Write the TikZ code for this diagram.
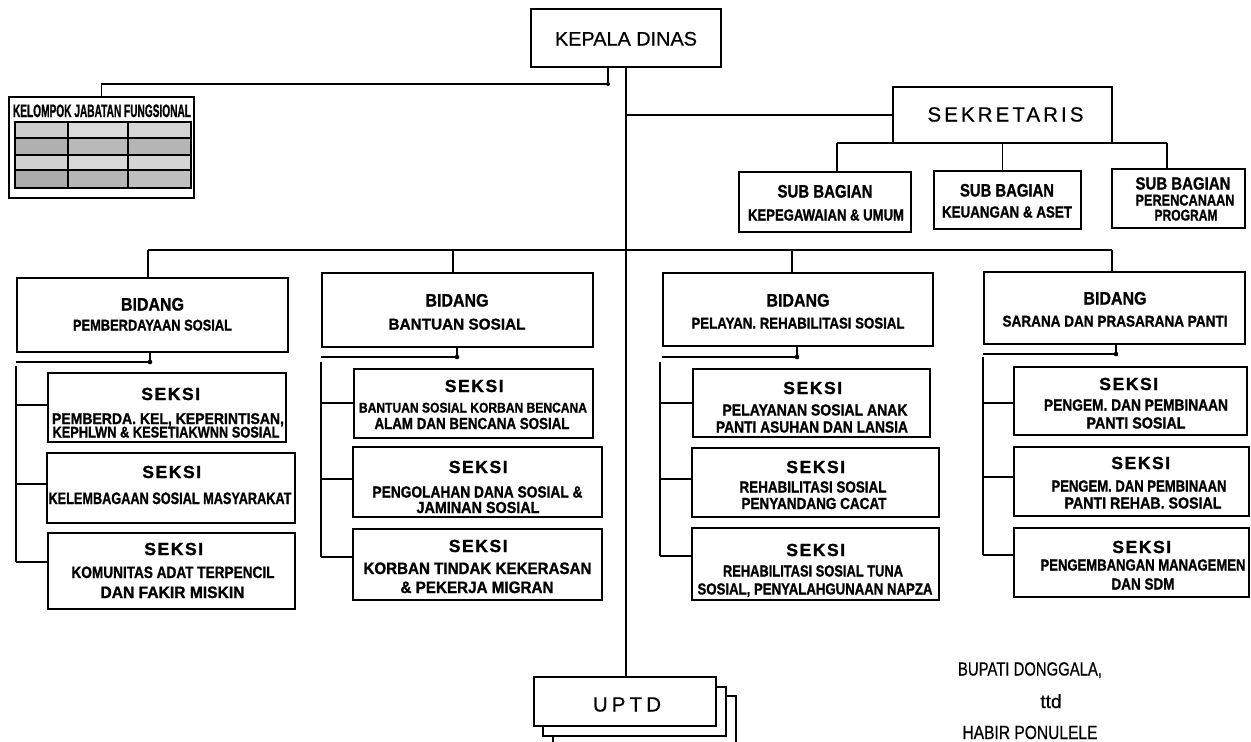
\documentclass[tikz,border=0pt]{standalone}
\usepackage{fontspec}
\usepackage{graphicx}
\setmainfont{Liberation Sans}[BoldFeatures={FakeBold=1.2}]
\newfontfamily\lsans{Liberation Sans}
\newfontfamily\lsansA[LetterSpace=9,BoldFeatures={FakeBold=1.2}]{Liberation Sans}
\newfontfamily\lsansB[LetterSpace=15,FakeBold=0.6]{Liberation Sans}
\newfontfamily\lsansC[LetterSpace=20,FakeBold=0.6]{Liberation Sans}
\newfontfamily\lsansR[FakeBold=0.6]{Liberation Sans}
% squeeze or stretch a line horizontally to a given width (in pt)
\newcommand\fitw[2]{\resizebox{#1pt}{\height}{#2}}
\newcommand\fsz[1]{\fontsize{#1}{#1}\selectfont}

\begin{document}
\begin{tikzpicture}[x=1pt,y=-1pt,
  box/.style={draw, line width=2pt, fill=white, inner sep=0pt},
  wire/.style={line width=1.9pt},
  tl/.style={anchor=base, inner sep=0pt, outer sep=0pt, font=\bfseries},
  tr/.style={anchor=base, inner sep=0pt, outer sep=0pt, font=\lsansR},
]
% box given by its corners: name, x1, y1, x2, y2
\newcommand\boxat[5]{\node[box, minimum width={#4pt-#2pt}, minimum height={#5pt-#3pt}]
  (#1) at ({(#2+#4)/2},{(#3+#5)/2}) {};}
% bold text line: name, x, baseline y, size, width, text
\newcommand\tx[6]{\node[tl] (#1) at (#2,#3) {\fsz{#4}\fitw{#5}{#6}};}
% spaced heading of a section box
\newcommand\hd[3]{\node[tl] (#1) at (#2,#3) {\fsz{17.5}\lsansA\bfseries SEKSI\kern-1.5pt};}

\clip (0,0) rectangle (1251,742);
\fill[white] (0,0) rectangle (1251,742);

% ---------- head of office ----------
\boxat{kepala}{531}{9}{721}{67}
\node[tr] (tkepala) at (626,45.5) {\fsz{19.5}\fitw{142}{KEPALA DINAS}};

% ---------- functional group ----------
\boxat{kjf}{9}{97}{194}{198}
\tx{tkjf}{102}{117}{18}{178}{KELOMPOK JABATAN FUNGSIONAL}
\begin{scope}[line width=1.7pt]
  \fill[gray!40] (15,122) rectangle (68,138);
  \fill[gray!28] (68,122) rectangle (128,138);
  \fill[gray!33] (128,122) rectangle (191,138);
  \fill[gray!62] (15,138) rectangle (68,155);
  \fill[gray!55] (68,138) rectangle (128,155);
  \fill[gray!58] (128,138) rectangle (191,155);
  \fill[gray!36] (15,155) rectangle (68,170);
  \fill[gray!30] (68,155) rectangle (128,170);
  \fill[gray!34] (128,155) rectangle (191,170);
  \fill[gray!66] (15,170) rectangle (68,188);
  \fill[gray!58] (68,170) rectangle (128,188);
  \fill[gray!50] (128,170) rectangle (191,188);
  \draw[line width=2.2pt] (15,122) rectangle (191,188);
  \draw (68,122) -- (68,188) (128,122) -- (128,188);
  \draw (15,138) -- (191,138) (15,170) -- (191,170);
  \draw[line width=2.8pt] (15,155) -- (191,155);
\end{scope}

% ---------- secretary ----------
\boxat{sek}{893}{87}{1112}{143}
\node[tr] (tsek) at (1004,121.5) {\fsz{20.5}\lsansB SEKRETARIS\kern-3pt};

\boxat{sb1}{739}{172}{911}{232}
\tx{tsb1a}{825}{197.5}{18}{95}{SUB BAGIAN}
\tx{tsb1b}{826}{220.5}{16}{156}{KEPEGAWAIAN \& UMUM}
\boxat{sb2}{934}{171}{1081}{229}
\tx{tsb2a}{1007}{196.5}{18}{94}{SUB BAGIAN}
\tx{tsb2b}{1007}{217.5}{16}{130}{KEUANGAN \& ASET}
\boxat{sb3}{1112}{169}{1245}{228}
\tx{tsb3a}{1183}{189.5}{17.5}{95}{SUB BAGIAN}
\tx{tsb3b}{1185}{205.5}{15.5}{99}{PERENCANAAN}
\tx{tsb3c}{1186}{220.5}{15.5}{63}{PROGRAM}

% ---------- divisions ----------
\boxat{bd1}{17}{278}{288}{352}
\tx{tbd1a}{152.5}{310.5}{18}{63}{BIDANG}
\tx{tbd1b}{152.5}{330.5}{15.5}{159}{PEMBERDAYAAN SOSIAL}
\boxat{bd2}{322}{273}{593}{347}
\tx{tbd2a}{457}{306.5}{18}{63}{BIDANG}
\tx{tbd2b}{457}{329.5}{15.5}{137}{BANTUAN SOSIAL}
\boxat{bd3}{663}{273}{933}{346}
\tx{tbd3a}{798}{306.5}{18}{63}{BIDANG}
\tx{tbd3b}{798}{328.5}{15.5}{213}{PELAYAN. REHABILITASI SOSIAL}
\boxat{bd4}{984}{272}{1245}{344}
\tx{tbd4a}{1115}{304.5}{18}{63}{BIDANG}
\tx{tbd4b}{1115}{326.5}{15.5}{225}{SARANA DAN PRASARANA PANTI}

% ---------- sections, column 1 ----------
\boxat{s11}{48}{373}{286}{442}
\hd{hs11}{170}{400}
\tx{ts11a}{168}{424}{15.5}{232}{PEMBERDA. KEL, KEPERINTISAN,}
\tx{ts11b}{166}{437.5}{15.5}{227}{KEPHLWN \& KESETIAKWNN SOSIAL}
\boxat{s12}{47}{453}{295}{523}
\hd{hs12}{171}{478}
\tx{ts12a}{170}{504}{16.5}{243}{KELEMBAGAAN SOSIAL MASYARAKAT}
\boxat{s13}{48}{533}{295}{609}
\hd{hs13}{173}{555}
\tx{ts13a}{173}{578}{16.5}{203}{KOMUNITAS ADAT TERPENCIL}
\tx{ts13b}{172.5}{598}{16.5}{144}{DAN FAKIR MISKIN}

% ---------- sections, column 2 ----------
\boxat{s21}{354}{369}{593}{438}
\hd{hs21}{473.5}{392}
\tx{ts21a}{473}{412.5}{14}{228}{BANTUAN SOSIAL KORBAN BENCANA}
\tx{ts21b}{472}{429}{16}{195}{ALAM DAN BENCANA SOSIAL}
\boxat{s22}{353}{447}{602}{517}
\hd{hs22}{477.5}{473}
\tx{ts22a}{477.5}{497.5}{16}{210}{PENGOLAHAN DANA SOSIAL \&}
\tx{ts22b}{478}{513}{16}{123}{JAMINAN SOSIAL}
\boxat{s23}{353}{529}{602}{600}
\hd{hs23}{477.5}{552}
\tx{ts23a}{477.5}{574}{16.5}{228}{KORBAN TINDAK KEKERASAN}
\tx{ts23b}{477}{593}{16.5}{153}{\& PEKERJA MIGRAN}

% ---------- sections, column 3 ----------
\boxat{s31}{693}{369}{930}{437}
\hd{hs31}{812}{394}
\tx{ts31a}{815}{415.5}{16}{185}{PELAYANAN SOSIAL ANAK}
\tx{ts31b}{812}{432.5}{16}{192}{PANTI ASUHAN DAN LANSIA}
\boxat{s32}{692}{448}{939}{517}
\hd{hs32}{815}{473}
\tx{ts32a}{813}{492.5}{16}{147}{REHABILITASI SOSIAL}
\tx{ts32b}{814}{509}{16}{145}{PENYANDANG CACAT}
\boxat{s33}{692}{528}{939}{600}
\hd{hs33}{815}{556}
\tx{ts33a}{813}{576.5}{16}{180}{REHABILITASI SOSIAL TUNA}
\tx{ts33b}{815}{594.5}{16}{235}{SOSIAL, PENYALAHGUNAAN NAPZA}

% ---------- sections, column 4 ----------
\boxat{s41}{1014}{367}{1247}{435}
\hd{hs41}{1128}{390}
\tx{ts41a}{1136}{410.5}{16}{184}{PENGEM. DAN PEMBINAAN}
\tx{ts41b}{1136}{428.5}{16}{99}{PANTI SOSIAL}
\boxat{s42}{1014}{447}{1249}{516}
\hd{hs42}{1140}{469}
\tx{ts42a}{1139}{491.5}{16}{175}{PENGEM. DAN PEMBINAAN}
\tx{ts42b}{1143}{508.5}{16}{157}{PANTI REHAB. SOSIAL}
\boxat{s43}{1014}{528}{1249}{597}
\hd{hs43}{1141}{553}
\tx{ts43a}{1143}{570.5}{16}{205}{PENGEMBANGAN MANAGEMEN}
\tx{ts43b}{1143}{589.5}{16}{63}{DAN SDM}

% ---------- technical units (stacked) ----------
\boxat{uptd3}{553}{696}{736}{760}
\boxat{uptd2}{543}{687}{726}{736}
\boxat{uptd1}{534}{677}{716}{726}
\node[tr] (tuptd) at (625,711.5) {\fsz{20.5}\lsansC UPTD\kern-4pt};

% ---------- connectors ----------
\begin{scope}[wire]
  % trunk
  \draw (kepala.south) -- (kepala.south |- uptd1.north);
  % functional group
  \coordinate (kja) at ([xshift=-18pt]kepala.south);
  \draw (kja) -- ++(0,16) coordinate (kjb) -| (kjf.north);
  \fill (kjb) circle (2);
  % secretary and its sub-units
  \draw (kepala.south |- sek.west) -- (sek.west);
  \coordinate (sbl) at (837,143);
  \coordinate (sbr) at (1167,143);
  \draw (sbl) -- (sbr);
  \draw (sbl) -- (sbl |- sb1.north);
  \draw (sek.south) -- (sek.south |- sb2.north);
  \draw (sbr) -- (sbr |- sb3.north);
  % division bus
  \coordinate (bb1) at (148,250);
  \coordinate (bb2) at (453,250);
  \coordinate (bb3) at (792,250);
  \coordinate (bb4) at (1112,250);
  \draw (bb1) -- (bb4);
  \foreach \i in {1,2,3,4} \draw (bb\i) -- (bb\i |- bd\i.north);

  % column 1 brackets
  \coordinate (j1) at (150,362);
  \draw (j1 |- bd1.south) -- (j1) -- (j1 -| bd1.west);
  \fill (j1) circle (2.3);
  \coordinate (c1t) at (16,366);
  \coordinate (c1a) at (16,405);
  \coordinate (c1b) at (16,484);
  \coordinate (c1c) at (16,562);
  \draw (c1t) -- (c1c);
  \draw (c1a) -- (c1a -| s11.west) (c1b) -- (c1b -| s12.west) (c1c) -- (c1c -| s13.west);

  % column 2
  \coordinate (j2) at (457,357);
  \draw (j2 |- bd2.south) -- (j2) -- (j2 -| bd2.west);
  \fill (j2) circle (2.3);
  \coordinate (c2t) at (321,362);
  \coordinate (c2a) at (321,403);
  \coordinate (c2b) at (321,479);
  \coordinate (c2c) at (321,557);
  \draw (c2t) -- (c2c);
  \draw (c2a) -- (c2a -| s21.west) (c2b) -- (c2b -| s22.west) (c2c) -- (c2c -| s23.west);

  % column 3
  \coordinate (j3) at (797,357);
  \draw (j3 |- bd3.south) -- (j3) -- (j3 -| bd3.west);
  \fill (j3) circle (2.3);
  \coordinate (c3t) at (660,362);
  \coordinate (c3a) at (660,403);
  \coordinate (c3b) at (660,479);
  \coordinate (c3c) at (660,556);
  \draw (c3t) -- (c3c);
  \draw (c3a) -- (c3a -| s31.west) (c3b) -- (c3b -| s32.west) (c3c) -- (c3c -| s33.west);

  % column 4
  \coordinate (j4) at (1116,354);
  \draw (j4 |- bd4.south) -- (j4) -- (j4 -| bd4.west);
  \fill (j4) circle (2.3);
  \coordinate (c4t) at (983,357);
  \coordinate (c4a) at (983,403);
  \coordinate (c4b) at (983,477);
  \coordinate (c4c) at (983,555);
  \draw (c4t) -- (c4c);
  \draw (c4a) -- (c4a -| s41.west) (c4b) -- (c4b -| s42.west) (c4c) -- (c4c -| s43.west);
\end{scope}

% ---------- signature ----------
\node[tr] (sig1) at (1030,675.5) {\fsz{19}\fitw{144}{BUPATI DONGGALA,}};
\node[tr] (sig2) at (1051,708) {\fsz{19}ttd};
\node[tr] (sig3) at (1030,739) {\fsz{19}\fitw{135}{HABIR PONULELE}};
\end{tikzpicture}
\end{document}
